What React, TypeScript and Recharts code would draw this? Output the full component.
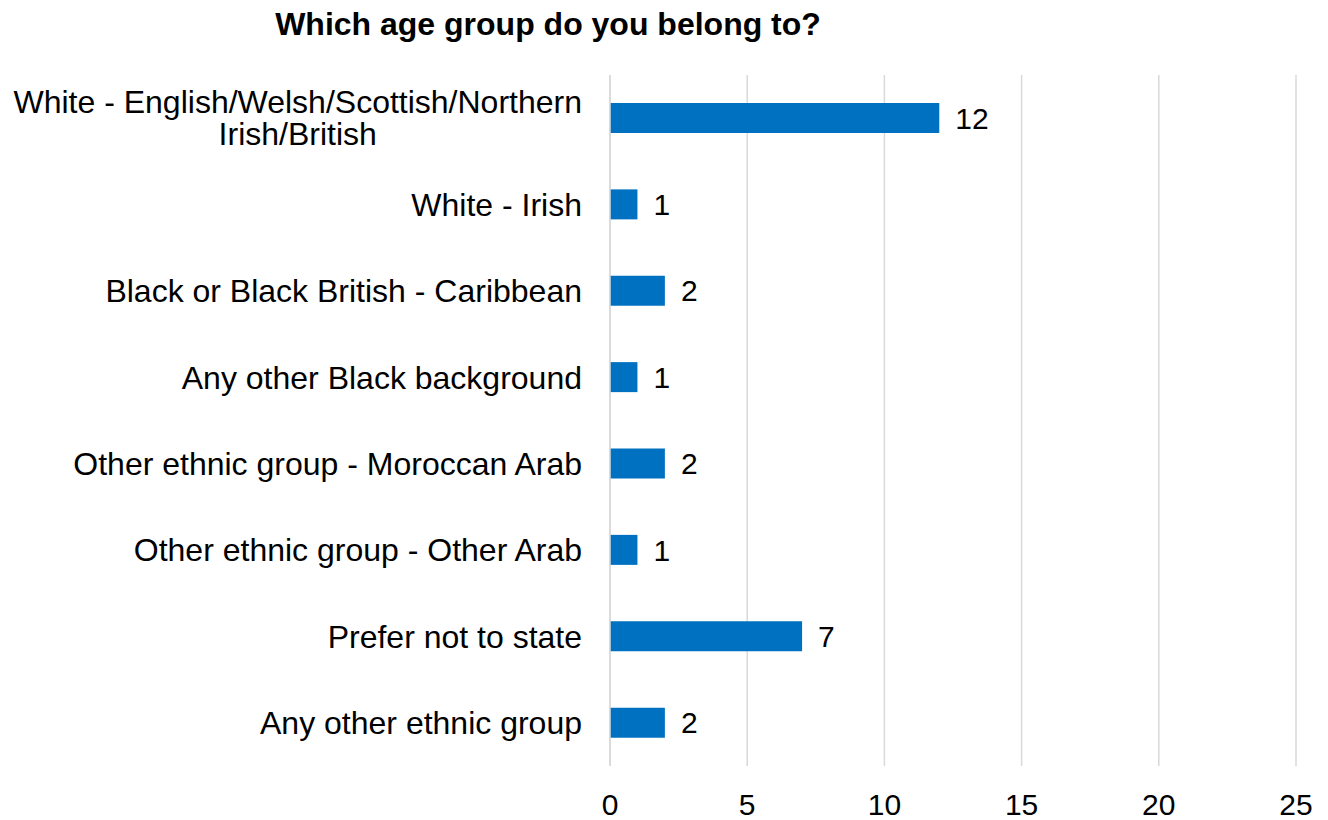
import { Bar, BarChart, CartesianGrid, LabelList, XAxis, YAxis } from 'recharts';

const categories = [
  'White - English/Welsh/Scottish/Northern Irish/British',
  'White - Irish',
  'Black or Black British - Caribbean',
  'Any other Black background',
  'Other ethnic group - Moroccan Arab',
  'Other ethnic group - Other Arab',
  'Prefer not to state',
  'Any other ethnic group',
];

const counts = [12, 1, 2, 1, 2, 1, 7, 2];

const xTicks = [0, 5, 10, 15, 20, 25];

const chartData = categories.map((name, i) => ({ name, value: counts[i] }));

const FONT = '"Liberation Sans", Arial, sans-serif';
const LABEL_SIZE = 32;
const LABEL_MAX_W = 580;

let ctx: CanvasRenderingContext2D | null = null;
function textWidth(s: string) {
  if (!ctx) {
    ctx = document.createElement('canvas').getContext('2d');
  }
  if (!ctx) return s.length * LABEL_SIZE * 0.5;
  ctx.font = `${LABEL_SIZE}px ${FONT}`;
  return ctx.measureText(s).width;
}

function wrap(label: string) {
  const words = label.split(' ');
  const lines: string[] = [];
  let cur = '';
  words.forEach((w) => {
    const next = cur ? `${cur} ${w}` : w;
    if (cur && textWidth(next) > LABEL_MAX_W) {
      lines.push(cur);
      cur = w;
    } else {
      cur = next;
    }
  });
  if (cur) lines.push(cur);
  return lines;
}

function CategoryTick({ x, y, payload }: any) {
  const lines = wrap(payload.value);
  const right = x - 28;
  const lineH = 32;
  const startY = y - ((lines.length - 1) * lineH) / 2;
  if (lines.length === 1) {
    return (
      <text x={right} y={y} dy="0.35em" textAnchor="end" fontSize={LABEL_SIZE} fontFamily={FONT} fill="#000">
        {lines[0]}
      </text>
    );
  }
  // wrapped label: block right-aligned, lines centred within it
  const blockW = Math.max(...lines.map(textWidth));
  const cx = right - blockW / 2;
  return (
    <text textAnchor="middle" fontSize={LABEL_SIZE} fontFamily={FONT} fill="#000">
      {lines.map((l, i) => (
        <tspan key={i} x={cx} y={startY + i * lineH} dy="0.35em">
          {l}
        </tspan>
      ))}
    </text>
  );
}

export default function App() {
  return (
    <div style={{ position: 'absolute', left: 0, top: 0, width: 1328, height: 820, background: '#fff' }}>
      <div
        style={{
          position: 'absolute',
          top: 6,
          left: 0,
          width: 1096,
          textAlign: 'center',
          fontFamily: FONT,
          fontWeight: 'bold',
          fontSize: 32,
          color: '#000',
        }}
      >
        Which age group do you belong to?
      </div>
      <BarChart
        width={1328}
        height={820}
        data={chartData}
        layout="vertical"
        margin={{ top: 75, right: 32, bottom: 0, left: 0 }}
      >
        <CartesianGrid horizontal={false} stroke="#D9D9D9" strokeWidth={1.5} />
        <XAxis
          type="number"
          domain={[0, 25]}
          ticks={xTicks}
          axisLine={false}
          tickLine={false}
          tickSize={0}
          tickMargin={28}
          height={54}
          tick={{ fontSize: 30, fill: '#000', fontFamily: FONT }}
        />
        <YAxis
          type="category"
          dataKey="name"
          width={610}
          axisLine={{ stroke: '#D9D9D9', strokeWidth: 1.5 }}
          tickLine={false}
          tickSize={0}
          tickMargin={0}
          tick={<CategoryTick />}
          interval={0}
        />
        <Bar dataKey="value" fill="#0070C0" barSize={30} isAnimationActive={false}>
          <LabelList dataKey="value" position="right" offset={16} fontSize={30} fill="#000" fontFamily={FONT} />
        </Bar>
      </BarChart>
    </div>
  );
}
